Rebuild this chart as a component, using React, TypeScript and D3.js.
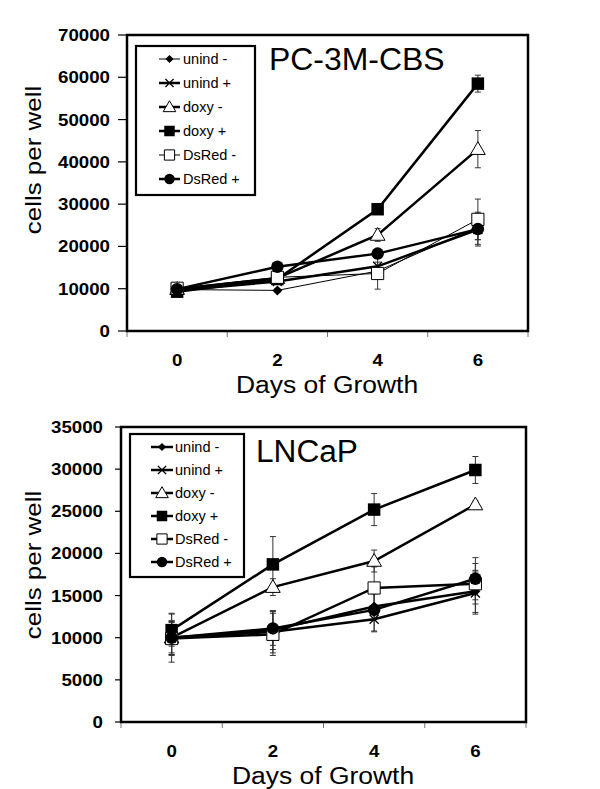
import React from "react";
import * as d3 from "d3";

const days = ["0", "2", "4", "6"];
const seriesNames = ["unind -", "unind +", "doxy -", "doxy +", "DsRed -", "DsRed +"];
const markerKinds = ["diamond", "x", "triangle", "filledSquare", "openSquare", "circle"];

// PC-3M-CBS
const pcUnindMinus = [9800, 9600, 14200, 24600];
const pcUnindPlus = [9600, 11700, 15300, 24000];
const pcDoxyMinus = [9900, 12500, 22700, 43000];
const pcDoxyPlus = [9300, 12300, 28800, 58500];
const pcDsRedMinus = [10100, 12700, 13600, 26400];
const pcDsRedPlus = [9900, 15200, 18300, 24100];
const pcErrUnindMinus = [500, 400, 800, 3000];
const pcErrUnindPlus = [500, 500, 1000, 3500];
const pcErrDoxyMinus = [600, 500, 1500, 4400];
const pcErrDoxyPlus = [600, 500, 600, 2000];
const pcErrDsRedMinus = [800, 600, 3700, 4800];
const pcErrDsRedPlus = [600, 500, 700, 4000];
const pcTicks = [0, 10000, 20000, 30000, 40000, 50000, 60000, 70000];

// LNCaP
const lnUnindMinus = [10000, 10900, 13700, 15500];
const lnUnindPlus = [10000, 10700, 12200, 15300];
const lnDoxyMinus = [10000, 16000, 19100, 25800];
const lnDoxyPlus = [10900, 18700, 25200, 29900];
const lnDsRedMinus = [9900, 10400, 15900, 16400];
const lnDsRedPlus = [10000, 11100, 13300, 17000];
const lnErrUnindMinus = [2000, 2300, 1500, 2500];
const lnErrUnindPlus = [2900, 2500, 1500, 2500];
const lnErrDoxyMinus = [2000, 1000, 1300, 400];
const lnErrDoxyPlus = [1900, 3300, 1900, 1600];
const lnErrDsRedMinus = [2000, 2500, 2500, 2400];
const lnErrDsRedPlus = [1800, 2000, 2500, 2500];
const lnTicks = [0, 5000, 10000, 15000, 20000, 25000, 30000, 35000];

const FONT = "'Liberation Sans', Arial, Helvetica, sans-serif";

function Marker({ kind, x, y, s }: { kind: string; x: number; y: number; s: number }) {
  if (kind === "diamond") {
    const p = d3.symbol(d3.symbolSquare, (s * 0.64) * (s * 0.64))();
    return <path d={p!} transform={`translate(${x},${y}) rotate(45)`} fill="#000" />;
  }
  if (kind === "x") {
    const h = s * 0.45;
    return (
      <path
        d={`M${x - h},${y - h}L${x + h},${y + h}M${x - h},${y + h}L${x + h},${y - h}`}
        stroke="#000"
        strokeWidth={1.3}
        fill="none"
      />
    );
  }
  if (kind === "triangle") {
    const p = d3.symbol(d3.symbolTriangle, s * s * 0.48)();
    return <path d={p!} transform={`translate(${x},${y + 1})`} fill="#fff" stroke="#000" strokeWidth={1} />;
  }
  if (kind === "filledSquare") {
    const p = d3.symbol(d3.symbolSquare, s * s)();
    return <path d={p!} transform={`translate(${x},${y})`} fill="#000" />;
  }
  if (kind === "openSquare") {
    const p = d3.symbol(d3.symbolSquare, s * s * 0.95)();
    return <path d={p!} transform={`translate(${x},${y})`} fill="#fff" stroke="#000" strokeWidth={1} />;
  }
  const p = d3.symbol(d3.symbolCircle, Math.PI * (s / 2) * (s / 2))();
  return <path d={p!} transform={`translate(${x},${y})`} fill="#000" />;
}

function SText(props: {
  x: number; y: number; size: number; sx?: number; anchor?: string; weight?: string; rotate?: number; children: any;
}) {
  const { x, y, size, sx = 1, anchor = "start", weight = "normal", rotate = 0, children } = props;
  return (
    <text
      transform={`translate(${x},${y}) rotate(${rotate}) scale(${sx},1)`}
      fontFamily={FONT}
      fontSize={size}
      fontWeight={weight}
      textAnchor={anchor}
      fill="#000"
    >
      {children}
    </text>
  );
}

type PanelProps = {
  left: number; right: number; top: number; bottom: number;
  yMax: number; ticks: number[];
  values: number[][]; errors: number[][]; widths: number[];
  tickLabelX: number; tickLen: number;
  title: string; titleX: number; titleY: number; titleSx: number;
  legend: { x0: number; x1: number; y0: number; y1: number; firstY: number; step: number; lx0: number; lx1: number; tx: number };
  yLabelX: number; yLabelY: number;
  xLabelCenter: number;
};

function Panel(p: PanelProps) {
  const x = d3.scaleBand<string>().domain(days).range([p.left, p.right]).padding(0);
  const y = d3.scaleLinear().domain([0, p.yMax]).range([p.bottom, p.top]);
  const cx = (d: string) => (x(d) as number) + x.bandwidth() / 2;
  const line = d3
    .line<number>()
    .x((_, i) => cx(days[i]))
    .y((v) => y(v));
  const sizes = [11, 10, 14, 12.5, 12.5, 12.5];
  const legendSizes = [9, 9, 12, 10.5, 10.5, 10.5];
  const bounds = [...days.map((d) => x(d) as number), p.right];
  return (
    <g>
      {/* y ticks */}
      {p.ticks.map((t) => (
        <g key={t}>
          <line x1={p.left - p.tickLen} x2={p.left} y1={y(t)} y2={y(t)} stroke="#000" strokeWidth={1.2} />
          <SText x={p.tickLabelX} y={y(t) + 6} size={17} sx={1.1} anchor="end" weight="bold">
            {d3.format("d")(t)}
          </SText>
        </g>
      ))}
      {/* x ticks */}
      {bounds.map((b, i) => (
        <line key={i} x1={b} x2={b} y1={p.bottom} y2={p.bottom + 6} stroke="#777" strokeWidth={1} />
      ))}
      {days.map((d) => (
        <SText key={d} x={cx(d)} y={p.bottom + 35} size={17} sx={1.1} anchor="middle" weight="bold">
          {d}
        </SText>
      ))}
      <SText x={p.xLabelCenter} y={p.bottom + 62} size={24.5} sx={1.08} anchor="middle">
        Days of Growth
      </SText>
      <SText x={p.yLabelX} y={p.yLabelY} size={22} sx={1.18} anchor="middle" rotate={-90}>
        cells per well
      </SText>
      {/* error bars */}
      {p.values.map((vals, si) =>
        vals.map((v, i) => {
          const e = p.errors[si][i];
          const xx = cx(days[i]);
          return (
            <g key={`${si}-${i}`} stroke="#333" strokeWidth={1}>
              <line x1={xx} x2={xx} y1={y(v - e)} y2={y(v + e)} />
              <line x1={xx - 3} x2={xx + 3} y1={y(v - e)} y2={y(v - e)} />
              <line x1={xx - 3} x2={xx + 3} y1={y(v + e)} y2={y(v + e)} />
            </g>
          );
        })
      )}
      {/* lines */}
      {p.values.map((vals, si) => (
        <path key={si} d={line(vals)!} fill="none" stroke="#000" strokeWidth={p.widths[si]} />
      ))}
      {/* markers */}
      {p.values.map((vals, si) =>
        vals.map((v, i) => (
          <Marker key={`${si}-${i}`} kind={markerKinds[si]} x={cx(days[i])} y={y(v)} s={sizes[si]} />
        ))
      )}
      {/* frame */}
      <rect x={p.left} y={p.top} width={p.right - p.left} height={p.bottom - p.top} fill="none" stroke="#000" strokeWidth={2.5} />
      {/* title */}
      <SText x={p.titleX} y={p.titleY} size={31} sx={p.titleSx}>
        {p.title}
      </SText>
      {/* legend */}
      <rect
        x={p.legend.x0}
        y={p.legend.y0}
        width={p.legend.x1 - p.legend.x0}
        height={p.legend.y1 - p.legend.y0}
        fill="#fff"
        stroke="#000"
        strokeWidth={2.2}
      />
      {seriesNames.map((n, i) => {
        const ly = p.legend.firstY + i * p.legend.step;
        const mx = (p.legend.lx0 + p.legend.lx1) / 2;
        return (
          <g key={n}>
            <line x1={p.legend.lx0} x2={p.legend.lx1} y1={ly} y2={ly} stroke="#000" strokeWidth={p.widths[i]} />
            <Marker kind={markerKinds[i]} x={mx} y={ly} s={legendSizes[i]} />
            <SText x={p.legend.tx} y={ly + 5} size={14.5}>
              {n}
            </SText>
          </g>
        );
      })}
    </g>
  );
}

export default function App() {
  return (
    <svg width={600} height={789} style={{ position: "absolute", left: 0, top: 0, background: "#fff" }}>
      <rect x={0} y={0} width={600} height={789} fill="#fff" />
      <Panel
        left={127}
        right={528}
        top={35}
        bottom={331}
        yMax={70000}
        ticks={pcTicks}
        values={[pcUnindMinus, pcUnindPlus, pcDoxyMinus, pcDoxyPlus, pcDsRedMinus, pcDsRedPlus]}
        errors={[pcErrUnindMinus, pcErrUnindPlus, pcErrDoxyMinus, pcErrDoxyPlus, pcErrDsRedMinus, pcErrDsRedPlus]}
        widths={[1, 2.5, 2.5, 2.5, 1, 2.5]}
        tickLabelX={110}
        tickLen={9}
        title="PC-3M-CBS"
        titleX={269}
        titleY={70}
        titleSx={1.03}
        legend={{ x0: 136, x1: 255, y0: 46, y1: 195, firstY: 59, step: 24, lx0: 159, lx1: 180, tx: 183 }}
        yLabelX={41}
        yLabelY={160}
        xLabelCenter={327}
      />
      <Panel
        left={121}
        right={526}
        top={427}
        bottom={722}
        yMax={35000}
        ticks={lnTicks}
        values={[lnUnindMinus, lnUnindPlus, lnDoxyMinus, lnDoxyPlus, lnDsRedMinus, lnDsRedPlus]}
        errors={[lnErrUnindMinus, lnErrUnindPlus, lnErrDoxyMinus, lnErrDoxyPlus, lnErrDsRedMinus, lnErrDsRedPlus]}
        widths={[2.5, 2.5, 2.5, 2.5, 2.5, 2.5]}
        tickLabelX={103}
        tickLen={6}
        title="LNCaP"
        titleX={256}
        titleY={462}
        titleSx={1.02}
        legend={{ x0: 130, x1: 244, y0: 434, y1: 577, firstY: 447, step: 23, lx0: 151, lx1: 173, tx: 175 }}
        yLabelX={41}
        yLabelY={565}
        xLabelCenter={323}
      />
    </svg>
  );
}
